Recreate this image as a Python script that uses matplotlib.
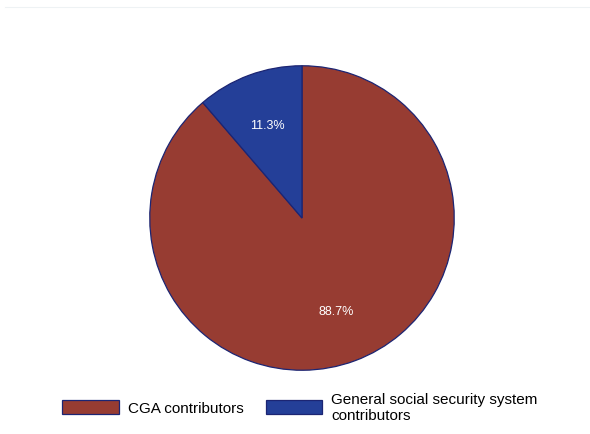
import matplotlib.pyplot as plt
from matplotlib.lines import Line2D

labels = ["CGA contributors", "General social security system\ncontributors"]
shares = [88.7, 11.3]
colors = ["#973C32", "#243F98"]

plt.rcParams['font.family'] = ['Liberation Sans', 'DejaVu Sans']

fig = plt.figure(figsize=(5.9, 4.35), dpi=100)

# faint rule along the top
fig.add_artist(Line2D([5 / 590, 1.0], [1 - 8 / 435, 1 - 8 / 435],
                      color="#eef2f4", lw=0.8))

ax = fig.add_axes([149 / 590, 63 / 435, 306 / 590, 306 / 435])
wedges, texts, autotexts = ax.pie(
    shares, labels=None, colors=colors, startangle=90, counterclock=False,
    autopct="%.1f%%", pctdistance=0.65, radius=1.0,
    wedgeprops=dict(edgecolor="#1c2573", linewidth=0.9),
    textprops=dict(color="white", fontsize=9))
ax.set_xlim(-1.005, 1.005)
ax.set_ylim(-1.005, 1.005)

fig.legend(wedges, labels, loc="center", bbox_to_anchor=(300 / 590, 1 - 408 / 435),
           ncol=2, frameon=False, fontsize=11, handlelength=3.7, handleheight=1.05,
           handletextpad=0.6, columnspacing=1.45, labelspacing=0.1)

fig.savefig("out.png", dpi=100)
